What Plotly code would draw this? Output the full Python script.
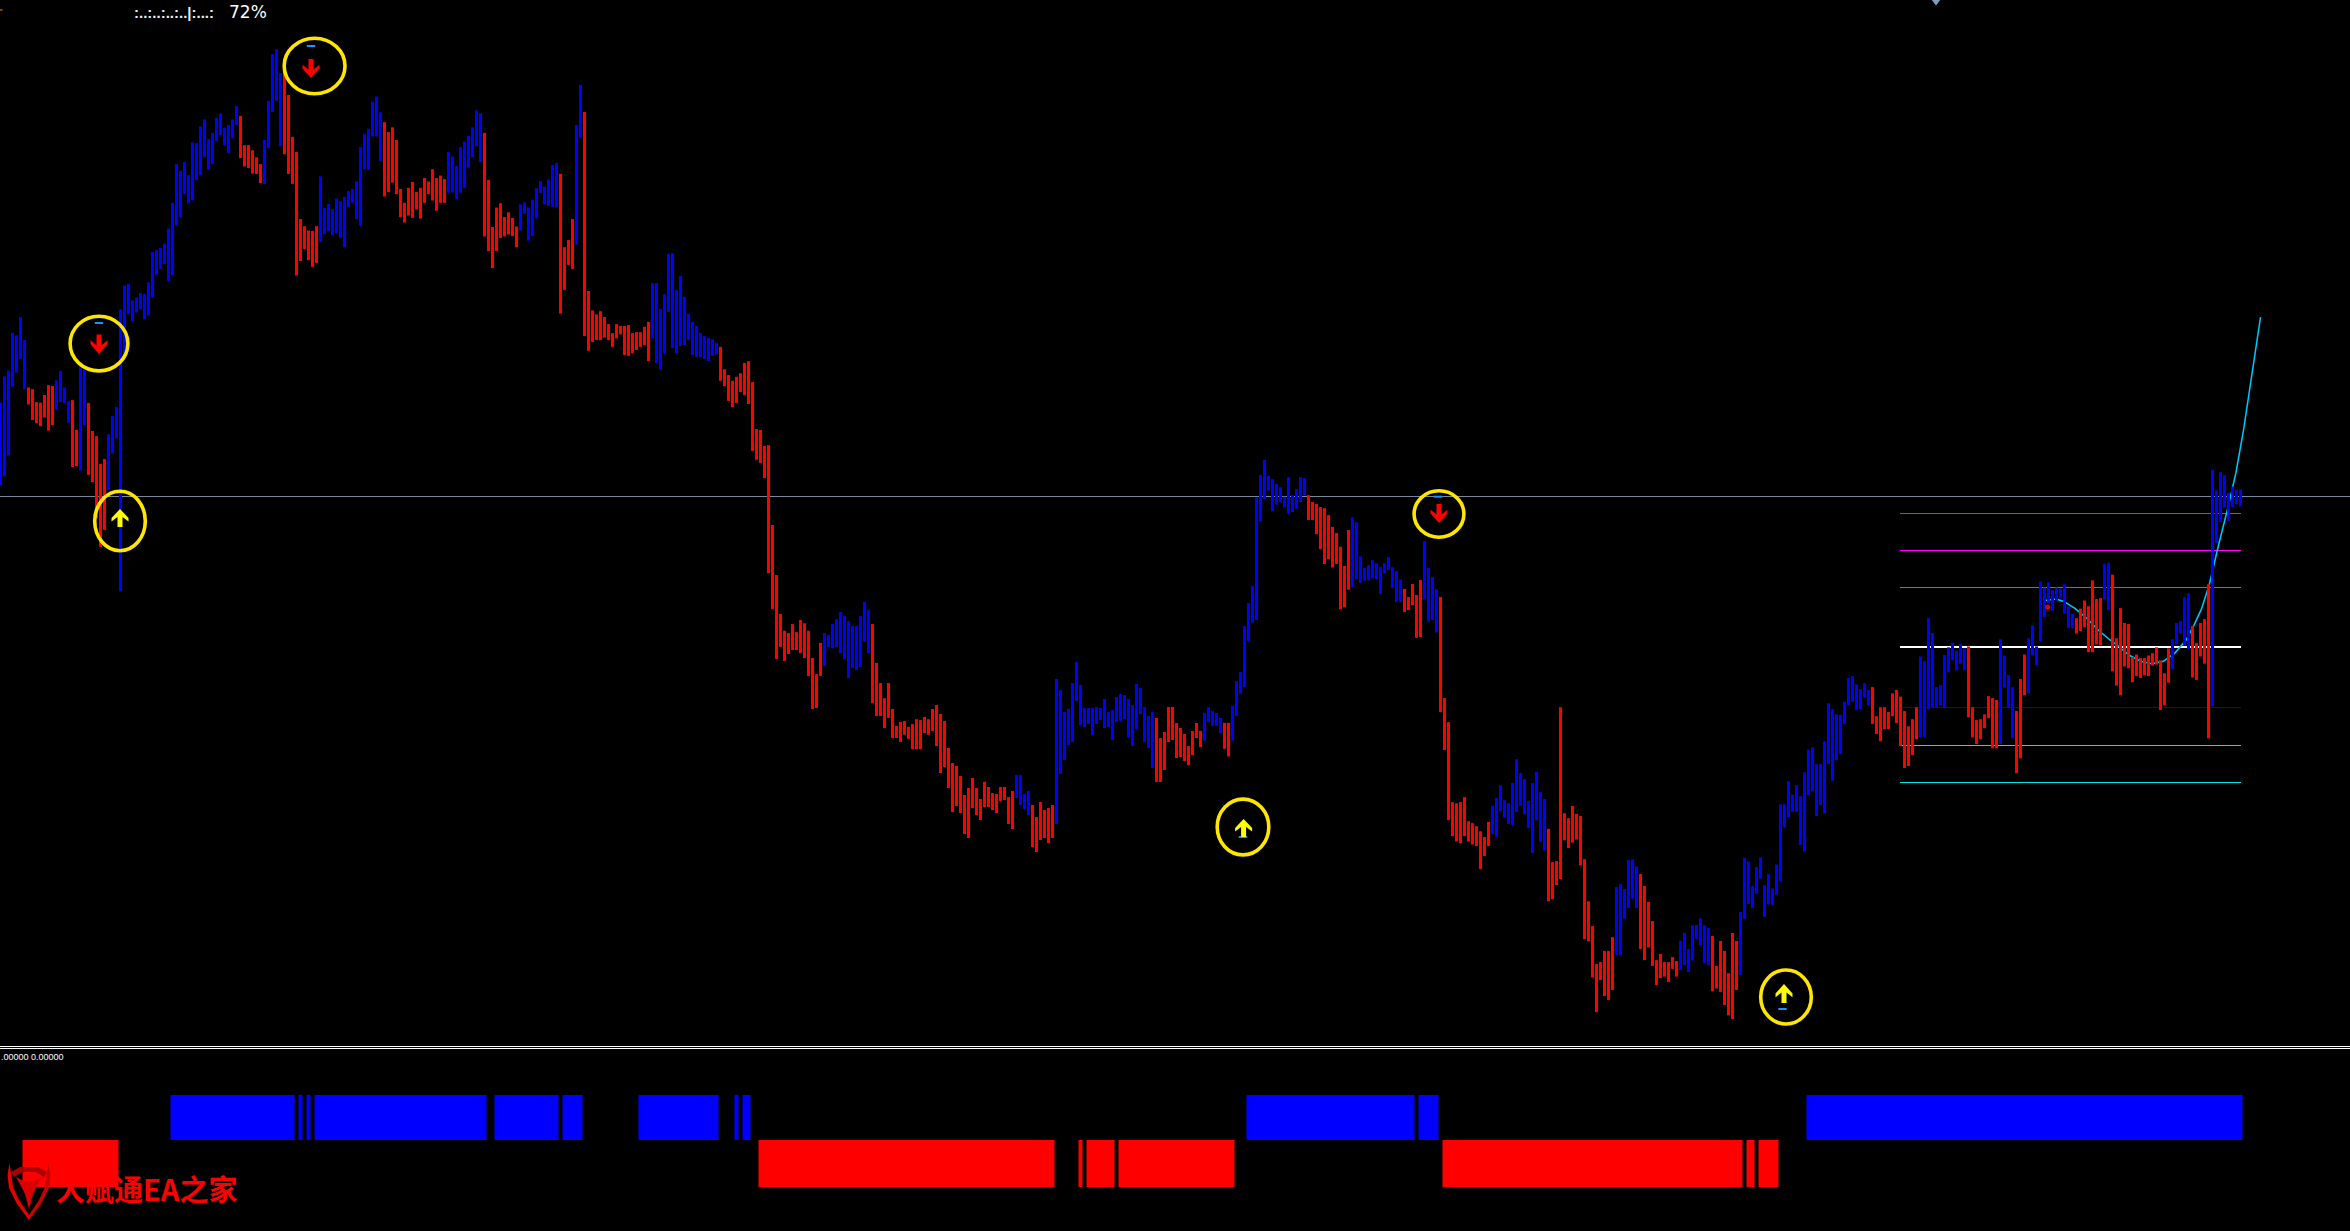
import plotly.graph_objects as go

W, H = 2350, 1231

tops_a = [1018,952,937,842,848,802,860,980,984,1017, 1018,999,974,976,962,938,980,1014,1012,1087,
 925,935,1019,1090,1103,1173,1161,1098,1052,1029, 782,722,718,760,752,741,743,714,637,632,
 627,616,578,513,415,432,410,443,360,362, 320,302,352,336,298,287,323,316,302,268,
 293,367,367,380,398,415,354,255,137,124, 185,165,240,346,384,554,572,583,584,572,
 446,526,516,529,502,509,498,483,478,459, 372,339,326,257,244,284,309,334,322,354,
 478,513,475,460,485,475,450,459,428,450, 444,453,384,396,420,372,358,344,322,279,
 286,336,455,574,525,514,549,537,551,573, 517,512,525,505,476,458,472,454,417,412,
 440,625,607,554,316,215,283,736,785,795]
bots_a = [1228,1205,1152,978,942,908,984,1023,1062,1070, 1078,1056,1089,1075,1037,1017,1020,1069,1181,1179,
 1190,1075,1201,1219,1310,1383,1340,1240,1147,1109, 1495,905,795,812,790,782,807,798,752,695,
 680,668,711,696,570,550,491,513,507,455, 443,398,429,415,357,342,367,387,350,316,
 400,421,425,439,440,463,465,374,283,255, 370,390,440,465,697,660,630,658,675,665,
 612,592,585,594,590,602,625,524,513,554, 571,428,430,345,345,407,497,486,462,491,
 549,563,545,551,530,553,513,491,507,533, 513,513,487,487,503,487,475,424,398,370,
 410,598,635,678,635,602,598,593,597,625, 583,541,609,597,553,488,517,521,523,524,
 793,733,670,680,619,349,850,887,865,860]

tops_b = [585,598,614,634,614,618,618,616,634,632, 632,620,609,522,522,580,547,457,455,538,
 506,553,591,609,618,634,641,645,648,656, 665,715,728,741,732,724,701,697,744,849,
 851,887,885,1064,1176,1263,1301,1306,1286,1304, 1277,1284,1301,1362,1398,1328,1306,1310,1286,1275,
 1259,1268,1279,1290,1290,1268,1236,1254,1286,1373, 1418,1452,1418,1476,1514,1505,1503,1516,1510,1499,
 1501,1494,1499]
bots_b = [650,644,650,665,646,637,683,685,679,672, 665,661,697,646,701,715,679,587,668,679,
 663,661,650,683,688,688,692,697,685,682, 741,753,786,800,791,766,773,793,898,918,
 925,959,1172,1252,1364,1337,1369,1353,1344,1344, 1351,1362,1402,1476,1474,1402,1380,1338,1340,1338,
 1351,1364,1407,1384,1389,1382,1326,1351,1463,1492, 1492,1519,1496,1541,1541,1550,1534,1543,1566,1566,
 1566,1530,1534]

tops_c = [267,255,282,303,384,429,438,468,525,504, 474,504,537,486,501,519,522,501,501,531,
 513,465,465,522,513,555,591,546,570,564, 555,177,210,276,267,189,126,195,264,264,
 264,261,264,237,276,270,231,222,225,237, 255,192,204,261,288,276,294,354,336,261,
 261,309,324,342,378,333,309]
bots_c = [333,378,459,441,504,576,558,579,642,654, 564,585,600,561,561,570,579,543,540,612,
 627,534,555,567,585,681,696,660,654,669, 654,612,462,420,375,366,243,315,321,312,
 345,312,300,324,321,360,306,303,297,351, 378,327,282,366,384,444,486,486,450,366,
 360,414,411,423,435,405,354]

tops_d = [734,687,672,682,687,700,713,713,669,604, 580,460,400,355,124,65,26,68,76,89,
 97,122,71,118,102,71,73,118,136,141, 149,152,170,201,217,253,303,209,176,189,
 278,308,301,288,296,306,296,280,306,316, 338,363,384,350,379,340,238,308,332,364,
 384,648,711,920,923,920,907,970,975,983, 996,1011,972,930,909,876,915,923,870,808,
 844,860,917,870,841,894,912,990,1077,1074, 672,949,962,930,951,956,1069,1179,1244,1343,
 1338,1309,1309,1273,1142,1134,1147,1071,1070,1088, 1108,1139,1181,1231,1333,1317,1338,1338,1325,1335,
 1282,1262,1304,1242,1241,1224,1242,1249,1270,1348, 1283,1309,1367,1262,1283,1207,1066,1075]
bots_d = [776,760,711,721,721,740,781,801,760,695, 637,620,499,451,444,187,128,106,160,143,
 137,150,167,162,154,136,118,183,183,220, 259,298,285,307,298,416,411,365,358,338,
 347,342,341,336,338,376,322,314,360,397, 398,423,418,405,491,489,391,449,444,477,
 685,784,967,1009,1023,1027,1009,1023,1031,1035, 1095,1061,1035,1004,1011,944,960,977,980,946,
 930,952,988,1053,968,1024,1047,1179,1174,1137, 1121,1020,1040,1026,1018,1085,1278,1284,1378,1469,
 1385,1427,1437,1411,1320,1320,1225,1197,1173,1197, 1304,1333,1300,1348,1398,1380,1376,1390,1356,1376,
 1359,1346,1364,1334,1278,1294,1341,1346,1414,1407, 1416,1450,1477,1487,1411,1372,1225,1186]

tops_e = [1225,1185,1165,1223,1200,1230,1180,1054,1054,1006, 1034,1014,1037,987,940,935,970,970,922,843,
 855,866,867,840,790,786,803,813,801,815, 809,870,851,851,861,822,815,829,859,891,
 876,851,745,755,665,696,809,805,742,726, 716,733,719,728,724,851,878,876,866,828,
 832,836,709,743,784,809,859,792,741,707, 680,724,588,601,590,607,601,603,594,641,
 656,665,645,628,640,586,625,623,551,549, 574,707,644,675,677,746,741,748,748,743,
 738,726,753,780,728,709,675,671,621,613, 682,717,675,667,594,355,398,360,366,403,390,396,396]
bots_e = [1271,1241,1209,1289,1263,1265,1243,1215,1102,1081, 1070,1070,1139,1153,1035,1027,1079,1056,1073,970,
 1005,962,949,886,847,840,857,855,830,847, 886,907,922,897,897,870,884,932,978,974,
 951,918,914,914,855,851,851,847,851,778, 753,774,760,774,872,914,928,918,895,874,
 937,937,928,810,851,916,989,958,826,822, 743,763,713,663,634,649,628,624,655,686,
 686,697,692,684,736,736,720,722,626,648, 776,806,826,766,770,799,786,790,784,786,
 764,762,857,847,800,772,720,697,722,730, 789,794,745,760,916,849,508,464,434,462,433,427,431]

# crop calibration: (first row of the crop, crop-units per row)
crop_a = (0, 2.529)
crop_b = (50, 2.24)
crop_c = (620, 3.0)
crop_d = (450, 2.613)
crop_e = (300, 2.09)

# colour of each run of bars: (first bar index, direction)
trend_runs = [(0,"B"),(7,"R"),(14,"B"),(18,"R"),(20,"B"),(22,"R"),(27,"B"),(60,"R"),(66,"B"),(71,"R"),
 (80,"B"),(96,"R"),(112,"B"),(121,"R"),(130,"B"),(140,"R"),(144,"B"),(146,"R"),(163,"B"),(180,"R"),
 (206,"B"),(218,"R"),(254,"B"),(258,"R"),(264,"B"),(289,"R"),(301,"B"),(306,"R"),(308,"B"),(327,"R"),
 (338,"B"),(351,"R"),(356,"B"),(360,"R"),(373,"B"),(387,"R"),(404,"B"),(410,"R"),(420,"B"),(428,"R"),
 (435,"B"),(468,"R"),(480,"B"),(492,"R"),(500,"B"),(504,"R"),(507,"B"),(519,"R"),(526,"B"),(528,"R"),
 (543,"B"),(548,"R"),(553,"B")]

# lower panel histogram: runs of bars (first, last inclusive)
panel_up_runs = [(43,73),(75,75),(77,77),(79,121),(124,139),(141,145),(160,179),(184,184),(186,187),
 (312,353),(355,359),(452,560)]
panel_down_runs = [(6,29),(190,263),(270,270),(272,278),(280,308),(361,435),(437,438),(440,444)]
panel_up_value = 1.0
panel_down_value = -1.044

# fan / level lines (picture rows) and the curve readings
level_rows = [513.5, 550.5, 587.5, 647, 707.5, 745.5, 782.5]
level_colors = ["#ff00ff", "#ff00ff", "#ff4500", "#ffffff", "#0000e0", "#00e6e6", "#00e6e6"]
level_widths = [1, 1, 1, 2, 1, 1, 1]
price_line_row = 496.5

curve_read_x = [770,800,820,850,880,910,940,960,990,1020,1050,1080,1110,1140,1160,1180,1200,1210,1225,1250,1270,1290,1310,1334]
curve_read_y = [628,625,630,645,665,690,710,722,742,755,760,755,738,710,680,645,595,560,510,430,360,270,160,36]

# signals: centre px, top row, bottom row
down_arrows = [(99,334.5,354),(311,59,78),(1439,504,523)]
up_arrows = [(120,509,527),(1243.6,819,837),(1784,984,1003)]
rings = [(99,343.6,28.9,27.3),(314.6,66,30.4,27.7),(120,521,25.3,29.7),(1439,514,24.9,23.2),(1243,827,25.8,27.9),(1786,997,25.3,27)]
dash_x = [99,311,1438,1243,1782.5]
dash_row = [323,46,496.7,837,1009]


def bar_x(px):
    return (px - 0.5) / 4.0


def level(row):
    return H - row


highs, lows = [], []
for t, b, (off, k) in [(tops_a, bots_a, crop_a), (tops_b, bots_b, crop_b), (tops_c, bots_c, crop_c),
                       (tops_d, bots_d, crop_d), (tops_e, bots_e, crop_e)]:
    for tt, bb in zip(t, b):
        highs.append(level(off + tt / k))
        lows.append(level(off + bb / k))

n = len(highs)
direction = [None] * n
for j, (s, d) in enumerate(trend_runs):
    e = trend_runs[j + 1][0] if j + 1 < len(trend_runs) else n
    for i in range(s, min(e, n)):
        direction[i] = d

x_range = [bar_x(0), bar_x(W)]
y_range = [0, H]
fig = go.Figure()

# curve (main axes, below bars)
curve_x = [bar_x(1750 + v / 2.613) for v in curve_read_x]
curve_y = [level(300 + v / 2.09) for v in curve_read_y]
fig.add_trace(go.Scatter(x=curve_x, y=curve_y, mode="lines", xaxis="x", yaxis="y",
                         line=dict(color="#00c8ff", width=1.5), hoverinfo="skip", showlegend=False))

# price bars on an overlay axis pair
for code, col in [("B", "#0000ff"), ("R", "#ff0000")]:
    idx = [i for i in range(n) if direction[i] == code]
    fig.add_trace(go.Bar(x=idx, base=[lows[i] for i in idx], y=[highs[i] - lows[i] for i in idx],
                         width=0.75, marker=dict(color=col, line=dict(width=0)),
                         xaxis="x2", yaxis="y2", showlegend=False))

# lower panel histogram: each unbroken run is one block
for runs, val, col in [(panel_up_runs, panel_up_value, "#0000ff"), (panel_down_runs, panel_down_value, "#ff0000")]:
    fig.add_trace(go.Bar(x=[(s + e) / 2 for s, e in runs], y=[val] * len(runs),
                         width=[e - s + 1 for s, e in runs], marker=dict(color=col, line=dict(width=0)),
                         xaxis="x2", yaxis="y3", showlegend=False))

# small markers on top of the bars
fig.add_trace(go.Scatter(x=[bar_x(v) for v in dash_x], y=[level(v) for v in dash_row], mode="markers",
                         marker=dict(symbol="line-ew", size=6, line=dict(color="#1e90ff", width=2)),
                         xaxis="x2", yaxis="y2", showlegend=False, hoverinfo="skip"))
fig.add_trace(go.Scatter(x=[bar_x(2047.7)], y=[level(607)], mode="markers",
                         marker=dict(symbol="circle", size=5, color="#e00000"),
                         xaxis="x2", yaxis="y2", showlegend=False, hoverinfo="skip"))
fig.add_trace(go.Scatter(x=[bar_x(1936)], y=[level(1)], mode="markers",
                         marker=dict(symbol="triangle-down", size=9, color="#7f9cc0"),
                         xaxis="x2", yaxis="y2", showlegend=False, hoverinfo="skip", cliponaxis=True))
fig.add_trace(go.Scatter(x=[bar_x(0.5)], y=[level(10)], mode="markers",
                         marker=dict(symbol="line-ew", size=3, line=dict(color="#ff8c00", width=1)),
                         xaxis="x2", yaxis="y2", showlegend=False, hoverinfo="skip"))

shapes = []
# horizontal price line, level lines (behind the bars)
shapes.append(dict(type="line", xref="x", yref="y", layer="below", x0=x_range[0], x1=x_range[1],
                   y0=level(price_line_row), y1=level(price_line_row), line=dict(color="#778899", width=1)))
for r, c, w in zip(level_rows, level_colors, level_widths):
    shapes.append(dict(type="line", xref="x", yref="y", layer="below", x0=bar_x(1900), x1=bar_x(2241),
                       y0=level(r), y1=level(r), line=dict(color=c, width=w)))
# window separator
for r in [1046.5, 1048.5]:
    shapes.append(dict(type="line", xref="x", yref="y", layer="above", x0=x_range[0], x1=x_range[1],
                       y0=level(r), y1=level(r), line=dict(color="#ffffff", width=1)))


def poly(points):
    return "M " + " L ".join(f"{bar_x(px):.3f},{level(py):.2f}" for px, py in points) + " Z"


for cx, t, b in down_arrows:
    h = b - t
    pts = [(cx - 2.5, t), (cx + 2.5, t), (cx + 2.5, t + h * .55), (cx + 8.5, t + h * .3), (cx + 8.5, t + h * .5),
           (cx, b), (cx - 8.5, t + h * .5), (cx - 8.5, t + h * .3), (cx - 2.5, t + h * .55)]
    shapes.append(dict(type="path", xref="x", yref="y", layer="above", path=poly(pts),
                       fillcolor="#ff0000", line=dict(width=0)))
for cx, t, b in up_arrows:
    h = b - t
    pts = [(cx - 2.5, b), (cx + 2.5, b), (cx + 2.5, b - h * .55), (cx + 8.5, b - h * .3), (cx + 8.5, b - h * .5),
           (cx, t), (cx - 8.5, b - h * .5), (cx - 8.5, b - h * .3), (cx - 2.5, b - h * .55)]
    shapes.append(dict(type="path", xref="x", yref="y", layer="above", path=poly(pts),
                       fillcolor="#ffff00", line=dict(width=0)))
for cx, cy, rx, ry in rings:
    shapes.append(dict(type="circle", xref="x", yref="y", layer="above", x0=bar_x(cx - rx), x1=bar_x(cx + rx),
                       y0=level(cy - ry), y1=level(cy + ry), line=dict(color="#ffe600", width=3.6)))

# watermark logo
logo_left = [(9.5,1163),(7.5,1175),(9,1188),(17,1204),(29,1220),(29,1215),(19,1200),(13,1187),(11.5,1176)]
logo_right = [(48.5,1163),(50.5,1175),(49,1188),(41,1204),(29,1220),(29,1215),(39,1200),(45,1187),(46.5,1176)]
logo_band = [(11,1172),(20,1167),(38,1167),(47,1172),(44,1177),(36,1172),(22,1172),(14,1177)]
logo_head = [(16,1177),(24,1181),(34,1181),(42,1177),(36,1188),(33,1194),(29,1209),(25,1194),(22,1188)]
for pts, col in [(logo_left, "#e80000"), (logo_right, "#c80000"), (logo_band, "#a80000"), (logo_head, "#d80000")]:
    shapes.append(dict(type="path", xref="x", yref="y", layer="above", path=poly(pts),
                       fillcolor=col, line=dict(width=0)))


def note(text, px, row, size, color, family, anchor="left"):
    return dict(text=text, x=px / W, y=1 - row / H, xref="paper", yref="paper", xanchor=anchor, yanchor="middle",
                showarrow=False, font=dict(size=size, color=color, family=family), align="left")


annotations = [
    note("<b>:..:..:..:..|:...:</b>", 132, 12, 15, "#e8eef5", "Liberation Sans"),
    note("72%", 227, 12, 17, "#ffffff", "DejaVu Sans"),
    note(".00000 0.00000", -1, 1057, 9, "#ffffff", "Liberation Sans"),
    note("<b>大赋通EA之家</b>", 54, 1188, 29, "#ff0000", "Noto Sans CJK SC"),
]

base_axis = dict(visible=False, showgrid=False, zeroline=False, fixedrange=True)
fig.update_layout(
    width=W, height=H, autosize=False,
    margin=dict(l=0, r=0, t=0, b=0, pad=0),
    paper_bgcolor="#000000", plot_bgcolor="#000000",
    barmode="overlay", showlegend=False, hovermode=False,
    xaxis=dict(range=x_range, domain=[0, 1], **base_axis),
    xaxis2=dict(range=x_range, overlaying="x", **base_axis),
    yaxis=dict(range=y_range, domain=[0, 1], **base_axis),
    yaxis2=dict(range=y_range, overlaying="y", **base_axis),
    yaxis3=dict(range=[-91 / 45, 1140 / 45], overlaying="y", **base_axis),
    shapes=shapes, annotations=annotations,
)

fig.write_html("out.html", config={"displayModeBar": False},
               post_script="document.body.style.margin='0';document.body.style.background='#000';document.documentElement.style.overflow='hidden';")
